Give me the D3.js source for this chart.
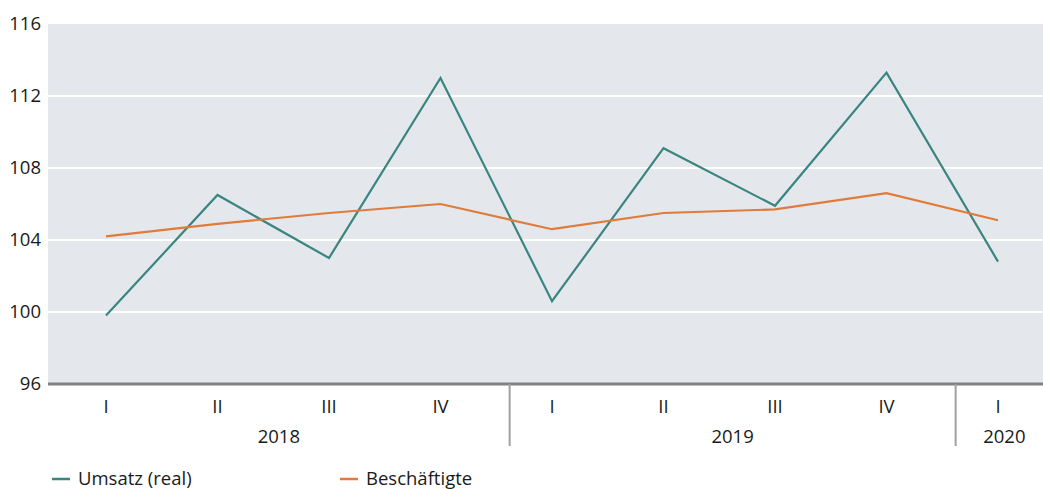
<!DOCTYPE html>
<html><head><meta charset="utf-8">
<script src="https://cdn.jsdelivr.net/npm/d3@7"></script>
<style>body{margin:0;background:#fff}svg{display:block}text{font-family:"Open Sans",sans-serif;fill:#1a1a1a}</style>
</head><body><svg id="c" width="1043" height="489"></svg>
<script>
const quarters = ["I","II","III","IV","I","II","III","IV","I"];
const years = [{label:"2018", from:0, to:3},{label:"2019", from:4, to:7},{label:"2020", from:8, to:8}];
const umsatz = [99.8,106.5,103.0,113.0,100.6,109.1,105.9,113.3,102.8];
const beschaeftigte = [104.2,104.9,105.5,106.0,104.6,105.5,105.7,106.6,105.1];
const yTicks = [96,100,104,108,112,116];
const seriesNames = ["Umsatz (real)","Beschäftigte"];
const colors = ["#3a8580","#e07b39"];

(function(){
const svg = d3.select("#c");
const pL = 48, pR = 1043, pT = 24, pB = 384;
const fs = 18.5;
const x = d3.scalePoint().domain(d3.range(quarters.length)).range([106, 998]);
const y = d3.scaleLinear().domain([96,116]).range([pB, pT]);
const step = x.step();

svg.append("rect").attr("x",pL).attr("y",pT).attr("width",pR-pL).attr("height",pB-pT).attr("fill","#e4e8ec");

svg.append("g").selectAll("line").data(yTicks.filter(d=>d>96 && d<116)).join("line")
  .attr("x1",pL).attr("x2",pR).attr("y1",d=>y(d)).attr("y2",d=>y(d))
  .attr("stroke","#fff").attr("stroke-width",2);

svg.append("g").selectAll("text").data(yTicks).join("text")
  .attr("x",41).attr("y",d=>y(d)).attr("dy","0.35em").attr("text-anchor","end")
  .attr("font-size",fs).text(d=>d);

svg.append("line").attr("x1",pL).attr("x2",pR).attr("y1",pB).attr("y2",pB)
  .attr("stroke","#808080").attr("stroke-width",3);

const seps = years.slice(0,-1).map(yr => x(yr.to) + step*0.62);
svg.append("g").selectAll("line").data(seps).join("line")
  .attr("x1",d=>d).attr("x2",d=>d).attr("y1",pB).attr("y2",446)
  .attr("stroke","#a0a0a0").attr("stroke-width",2);

svg.append("g").selectAll("text").data(quarters).join("text")
  .attr("x",(d,i)=>x(i)).attr("y",413).attr("text-anchor","middle").attr("font-size",fs).text(d=>d);

const bounds = [pL, ...seps, 1053];
svg.append("g").selectAll("text").data(years).join("text")
  .attr("x",(d,i)=>(bounds[i]+bounds[i+1])/2).attr("y",443).attr("text-anchor","middle")
  .attr("font-size",fs).text(d=>d.label);

const line = d3.line().x((d,i)=>x(i)).y(d=>y(d));
[umsatz, beschaeftigte].forEach((s,k)=>{
  svg.append("path").datum(s).attr("d",line).attr("fill","none")
    .attr("stroke",colors[k]).attr("stroke-width",2.2).attr("stroke-linejoin","miter");
});

const legX = [52, 340];
seriesNames.forEach((n,k)=>{
  svg.append("line").attr("x1",legX[k]).attr("x2",legX[k]+18).attr("y1",479).attr("y2",479)
    .attr("stroke",colors[k]).attr("stroke-width",2.5);
  svg.append("text").attr("x",legX[k]+26).attr("y",479).attr("dy","0.35em").attr("font-size",fs).text(n);
});
})();
</script></body></html>
